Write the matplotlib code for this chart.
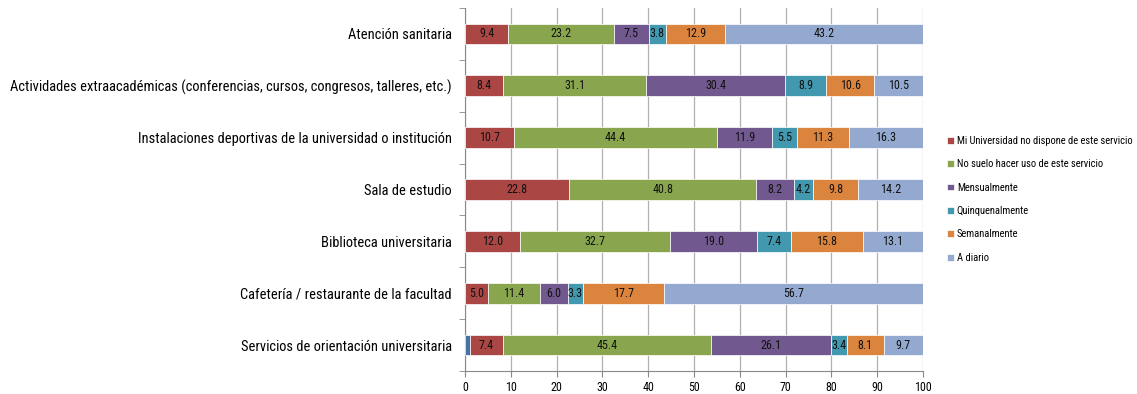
import matplotlib
matplotlib.use("Agg")
import matplotlib.pyplot as plt
from matplotlib import font_manager

categories = [
    "Atención sanitaria",
    "Actividades extraacadémicas (conferencias, cursos, congresos, talleres, etc.)",
    "Instalaciones deportivas de la universidad o institución",
    "Sala de estudio",
    "Biblioteca universitaria",
    "Cafetería / restaurante de la facultad",
    "Servicios de orientación universitaria",
]

# unlabeled first segment (only on the last bar)
sin_respuesta = [0, 0, 0, 0, 0, 0, 1.0]
no_dispone = [9.4, 8.4, 10.7, 22.8, 12.0, 5.0, 7.4]
no_uso = [23.2, 31.1, 44.4, 40.8, 32.7, 11.4, 45.4]
mensual = [7.5, 30.4, 11.9, 8.2, 19.0, 6.0, 26.1]
quincenal = [3.8, 8.9, 5.5, 4.2, 7.4, 3.3, 3.4]
semanal = [12.9, 10.6, 11.3, 9.8, 15.8, 17.7, 8.1]
diario = [43.2, 10.5, 16.3, 14.2, 13.1, 56.7, 9.7]

series_names = [
    "Mi Universidad no dispone de este servicio",
    "No suelo hacer uso de este servicio",
    "Mensualmente",
    "Quinquenalmente",
    "Semanalmente",
    "A diario",
]
series_vals = [no_dispone, no_uso, mensual, quincenal, semanal, diario]
colors = ["#AA4643", "#89A54E", "#71588F", "#4198AF", "#DB843D", "#93A9CF"]

installed = {f.name for f in font_manager.fontManager.ttflist}
fam = "Roboto"
for cand in ["Roboto Condensed", "Liberation Sans Narrow", "Open Sans Condensed",
             "Noto Sans Condensed", "Roboto"]:
    if cand in installed:
        fam = cand
        break
plt.rcParams["font.family"] = [fam, "DejaVu Sans"]

fig = plt.figure(figsize=(11.37, 3.94), dpi=100)
ax = fig.add_axes([465 / 1137, 1 - 371 / 394, 458 / 1137, 363 / 394])
renderer = fig.canvas.get_renderer()


def fit_size(text, width_px, start=12):
    t = fig.text(0, 0, text, fontsize=start)
    w = t.get_window_extent(renderer).width
    t.remove()
    return start * width_px / w


y = list(range(len(categories)))
h = 0.4

left = [0.0] * len(categories)
ax.barh(y, sin_respuesta, height=h, left=left, color="#4572A7",
        edgecolor="white", linewidth=0.5, zorder=3)
left = [l + v for l, v in zip(left, sin_respuesta)]

num_size = min(9, fit_size("45.4", 21))
handles = []
for name, vals, c in zip(series_names, series_vals, colors):
    bars = ax.barh(y, vals, height=h, left=left, color=c, label=name,
                   edgecolor="white", linewidth=0.5, zorder=3)
    handles.append(bars)
    for yi, l, v in zip(y, left, vals):
        cx = (l + min(l + v, 100)) / 2
        ax.text(cx, yi, f"{v:.1f}", ha="center", va="center",
                fontsize=num_size, color="#111111", zorder=4)
    left = [l + v for l, v in zip(left, vals)]

ax.set_xlim(0, 100)
ax.set_ylim(len(categories) - 0.5, -0.5)
ax.set_xticks(range(0, 101, 10))
ax.tick_params(axis="x", labelsize=num_size, length=4, color="#888888", pad=3)
ax.set_yticks(y)
ax.set_yticklabels(categories, fontsize=fit_size(categories[1], 440))
ax.set_yticks([i + 0.5 for i in range(-1, len(categories))], minor=True)
ax.tick_params(axis="y", which="major", length=0, pad=9.5)
ax.tick_params(axis="y", which="minor", length=4, color="#888888")
ax.grid(axis="x", color="#b0b0b0", linewidth=0.9, zorder=0)
for s in ["top", "right"]:
    ax.spines[s].set_visible(False)
for s in ["left", "bottom"]:
    ax.spines[s].set_color("#888888")

fig.legend(handles=handles, labels=series_names, loc="upper left",
           bbox_to_anchor=(938 / 1137, 1 - 126.5 / 394), frameon=False,
           fontsize=fit_size(series_names[0], 176), handlelength=0.6,
           handleheight=0.6, handletextpad=0.3, labelspacing=1.28)

fig.savefig("out.png", dpi=100)
